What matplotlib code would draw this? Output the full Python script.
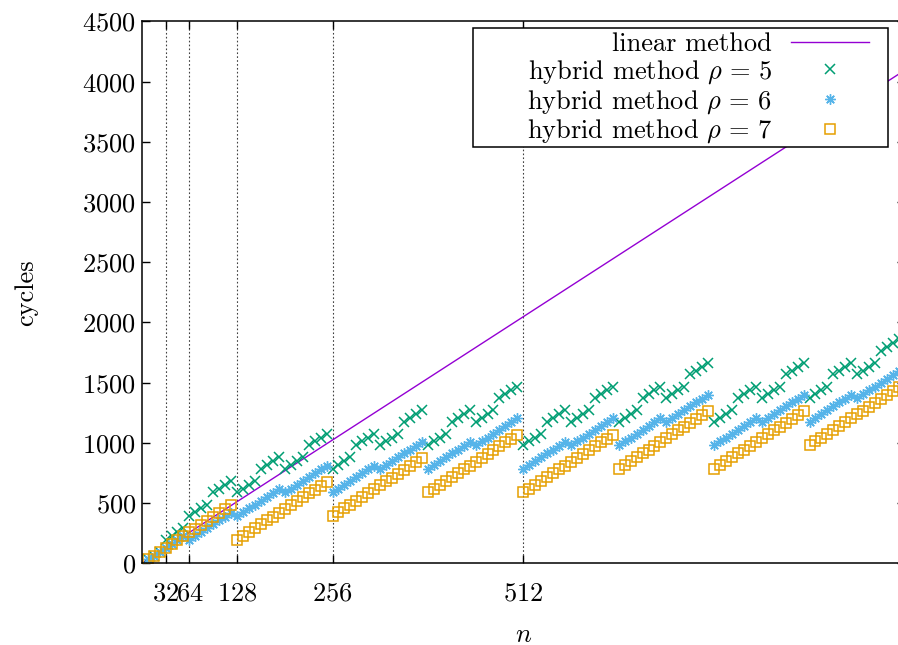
import matplotlib
matplotlib.use("Agg")
import matplotlib.pyplot as plt
import numpy as np
from matplotlib.patches import Rectangle

plt.rcParams["font.family"] = "cmr10"
plt.rcParams["mathtext.fontset"] = "cm"
plt.rcParams["axes.formatter.use_mathtext"] = True
plt.rcParams["font.size"] = 19

# input sizes, one point every 8
n = np.arange(8, 1024, 8)

# linear method, straight line
linear_n = [0, 1024]
linear_cycles = [0, 4096]

# hybrid method rho = 5 (groups of 32)
hybrid5 = [32, 64, 96,
           196, 228, 260, 292,
           392, 424, 456, 488,
           588, 620, 652, 684,
           588, 620, 652, 684,
           784, 816, 848, 880,
           784, 816, 848, 880,
           980, 1012, 1044, 1076,
           784, 816, 848, 880,
           980, 1012, 1044, 1076,
           980, 1012, 1044, 1076,
           1176, 1208, 1240, 1272,
           980, 1012, 1044, 1076,
           1176, 1208, 1240, 1272,
           1176, 1208, 1240, 1272,
           1372, 1404, 1436, 1468,
           980, 1012, 1044, 1076,
           1176, 1208, 1240, 1272,
           1176, 1208, 1240, 1272,
           1372, 1404, 1436, 1468,
           1176, 1208, 1240, 1272,
           1372, 1404, 1436, 1468,
           1372, 1404, 1436, 1468,
           1568, 1600, 1632, 1664,
           1176, 1208, 1240, 1272,
           1372, 1404, 1436, 1468,
           1372, 1404, 1436, 1468,
           1568, 1600, 1632, 1664,
           1372, 1404, 1436, 1468,
           1568, 1600, 1632, 1664,
           1568, 1600, 1632, 1664,
           1764, 1796, 1828, 1860]

# hybrid method rho = 6 (groups of 64)
hybrid6 = [32, 64, 96, 128, 160, 192, 224,
           196, 228, 260, 292, 324, 356, 388, 420,
           392, 424, 456, 488, 520, 552, 584, 616,
           588, 620, 652, 684, 716, 748, 780, 812,
           588, 620, 652, 684, 716, 748, 780, 812,
           784, 816, 848, 880, 912, 944, 976, 1008,
           784, 816, 848, 880, 912, 944, 976, 1008,
           980, 1012, 1044, 1076, 1108, 1140, 1172, 1204,
           784, 816, 848, 880, 912, 944, 976, 1008,
           980, 1012, 1044, 1076, 1108, 1140, 1172, 1204,
           980, 1012, 1044, 1076, 1108, 1140, 1172, 1204,
           1176, 1208, 1240, 1272, 1304, 1336, 1368, 1400,
           980, 1012, 1044, 1076, 1108, 1140, 1172, 1204,
           1176, 1208, 1240, 1272, 1304, 1336, 1368, 1400,
           1176, 1208, 1240, 1272, 1304, 1336, 1368, 1400,
           1372, 1404, 1436, 1468, 1500, 1532, 1564, 1596]

# hybrid method rho = 7 (groups of 128)
hybrid7 = [32, 64, 96, 128, 160, 192, 224, 256, 288, 320, 352, 384, 416, 448, 480,
           196, 228, 260, 292, 324, 356, 388, 420, 452, 484, 516, 548, 580, 612, 644, 676,
           392, 424, 456, 488, 520, 552, 584, 616, 648, 680, 712, 744, 776, 808, 840, 872,
           588, 620, 652, 684, 716, 748, 780, 812, 844, 876, 908, 940, 972, 1004, 1036, 1068,
           588, 620, 652, 684, 716, 748, 780, 812, 844, 876, 908, 940, 972, 1004, 1036, 1068,
           784, 816, 848, 880, 912, 944, 976, 1008, 1040, 1072, 1104, 1136, 1168, 1200, 1232, 1264,
           784, 816, 848, 880, 912, 944, 976, 1008, 1040, 1072, 1104, 1136, 1168, 1200, 1232, 1264,
           980, 1012, 1044, 1076, 1108, 1140, 1172, 1204, 1236, 1268, 1300, 1332, 1364, 1396, 1428, 1460]

x_ticks = [32, 64, 128, 256, 512]
y_ticks = [0, 500, 1000, 1500, 2000, 2500, 3000, 3500, 4000, 4500]

fig = plt.figure(figsize=(8.98, 6.45), dpi=100)
# right border sits just past the image edge, like the original
ax = fig.add_axes([0.1578, 0.1267, 0.8499, 0.8400])

ax.plot(linear_n, linear_cycles, color="#9400d3", lw=1.0, label="linear method")
ax.plot(n, hybrid5, ls="none", marker="x", ms=7, mew=1.1, color="#009e73",
        label=r"hybrid method $\rho\,=\,5$")
ax.plot(n, hybrid6, ls="none", marker=(8, 2, 0), ms=7.5, mew=1.0, color="#56b4e9",
        label=r"hybrid method $\rho\,=\,6$")
ax.plot(n, hybrid7, ls="none", marker="s", ms=7, mfc="none", mew=1.1, color="#e69f00",
        label=r"hybrid method $\rho\,=\,7$")

ax.set_xlim(0, 1024)
ax.set_ylim(0, 4500)
ax.set_xticks(x_ticks)
ax.set_yticks(y_ticks)
ax.tick_params(direction="in", length=6, width=1, top=True, right=True, labelsize=19)
ax.tick_params(axis="x", pad=13)
ax.tick_params(axis="y", pad=4)
ax.grid(axis="x", color="0.25", ls=(0, (1.5, 2)), lw=0.8)
for s in ax.spines.values():
    s.set_linewidth(1.1)

ax.set_xlabel("$n$", labelpad=13)
ax.set_ylabel("cycles", labelpad=32)

# gnuplot style key: white box, right aligned text, sample on the right
ax.add_patch(Rectangle((0.4345, 0.7689), 0.5434, 0.2186, transform=ax.transAxes,
                       facecolor="white", edgecolor="black", lw=1.1, zorder=5))
leg = ax.legend(loc="upper right", bbox_to_anchor=(0.953, 0.980), frameon=False,
                markerfirst=False, borderpad=0, borderaxespad=0, handlelength=2.95,
                handletextpad=0.72, labelspacing=0.075, numpoints=1)
leg.set_zorder(6)

fig.savefig("out.png", dpi=100)
